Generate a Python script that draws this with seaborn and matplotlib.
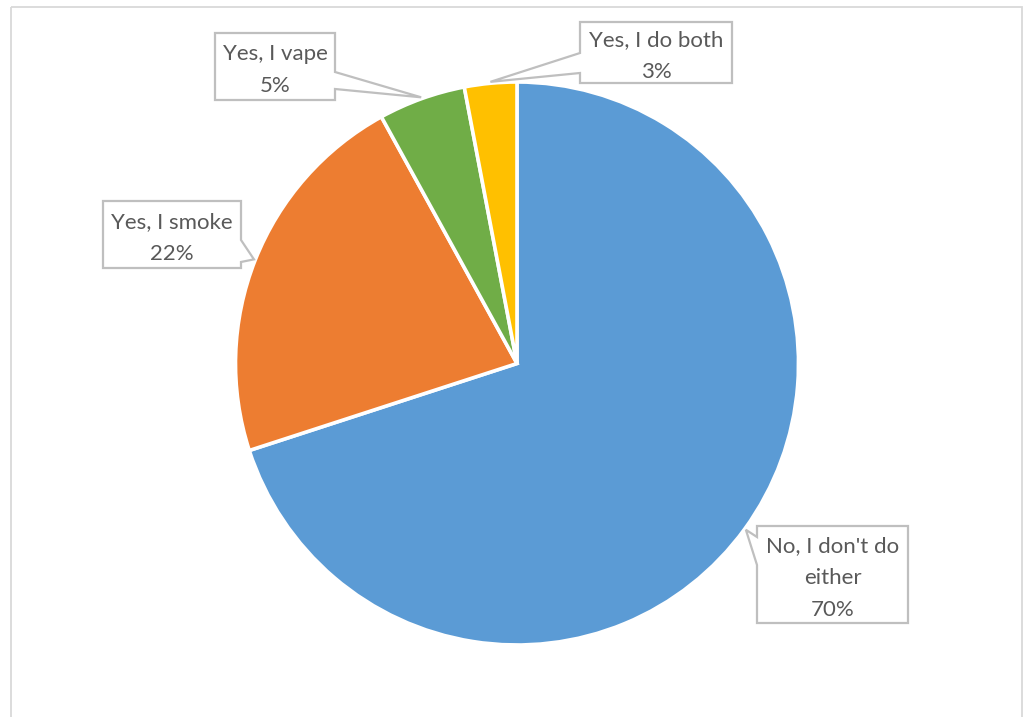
import numpy as np
import matplotlib
matplotlib.use("Agg")
import matplotlib.pyplot as plt
from matplotlib.patches import Polygon, Rectangle
import seaborn as sns

# Survey answers and their shares (%)
categories = ["No, I don't do\neither", "Yes, I smoke", "Yes, I vape", "Yes, I do both"]
shares = [70, 22, 5, 3]
colors = ["#5B9BD5", "#ED7D31", "#70AD47", "#FFC000"]

sns.set_theme(style="white")
plt.rcParams["font.family"] = ["Lato", "DejaVu Sans"]

W, H = 1030, 717
fig = plt.figure(figsize=(W / 100, H / 100), dpi=100)
ax = fig.add_axes([0, 0, 1, 1])

# Pixel-like coordinates: y grows downward
cx, cy, r = 517, 363.5, 281.5
wedges, _ = ax.pie(
    shares,
    colors=colors,
    startangle=-90,
    counterclock=True,
    center=(cx, cy),
    radius=r,
    wedgeprops=dict(edgecolor="white", linewidth=2.6),
)
ax.set_xlim(0, W)
ax.set_ylim(H, 0)
ax.set_aspect("equal")
ax.axis("off")

# Chart-area border
ax.add_patch(Rectangle((10.5, 6.5), 1011.5, 720, fill=False,
                       edgecolor="#D9D9D9", linewidth=1.3, clip_on=False))

# Callout boxes: (x0, y0, x1, y1), side of the pointer, pointer base span
boxes = [
    ((757, 526, 908, 623), "left", (537, 565)),
    ((103, 201, 241, 268), "right", (240, 262)),
    ((215, 33, 335, 100), "right", (72, 89)),
    ((580, 22, 732, 83), "left", (53, 73)),
]

for w, share, label, (box, side, base) in zip(wedges, shares, categories, boxes):
    # tip of the pointer sits just outside the wedge, at its middle angle
    mid = np.deg2rad((w.theta1 + w.theta2) / 2)
    tip = (cx + r * 1.005 * np.cos(mid), cy + r * 1.005 * np.sin(mid))
    x0, y0, x1, y1 = box
    b0, b1 = base
    if side == "right":
        verts = [(x0, y0), (x1, y0), (x1, b0), tip, (x1, b1), (x1, y1), (x0, y1)]
    else:
        verts = [(x0, y0), (x1, y0), (x1, y1), (x0, y1), (x0, b1), tip, (x0, b0)]
    ax.add_patch(Polygon(verts, closed=True, facecolor="white",
                         edgecolor="#BFBFBF", linewidth=1.6, zorder=3))
    ax.text((x0 + x1) / 2, (y0 + y1) / 2 + 3.5, f"{label}\n{share}%",
            ha="center", va="center", fontsize=16, color="#595959",
            linespacing=1.72, zorder=4)

fig.savefig("out.png", dpi=100, facecolor="white")
